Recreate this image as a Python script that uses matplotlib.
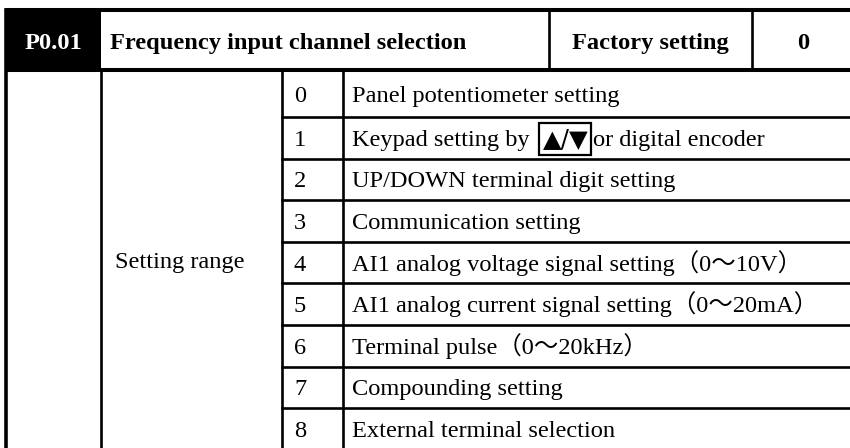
import matplotlib
matplotlib.use("Agg")
import matplotlib.pyplot as plt
from matplotlib.patches import Rectangle

plt.rcParams['font.family'] = ['Liberation Serif', 'Noto Sans CJK SC', 'DejaVu Sans']

# table content
param_code = "P0.01"
param_name = "Frequency input channel selection"
factory_label = "Factory setting"
factory_value = "0"
range_label = "Setting range"
codes = ["0", "1", "2", "3", "4", "5", "6", "7", "8"]
descs = ["Panel potentiometer setting",
         "Keypad setting by ▲/▼or digital encoder",
         "UP/DOWN terminal digit setting",
         "Communication setting",
         "AI1 analog voltage signal setting（0～10V）",
         "AI1 analog current signal setting（0～20mA）",
         "Terminal pulse（0～20kHz）",
         "Compounding setting",
         "External terminal selection"]
keypad_parts = ["Keypad setting by ", "▲/▼", "or digital encoder"]

# layout (pixels)
W, H = 850, 448
head_top, head_bot = 10.5, 70.5
head_cols = [5, 101, 549, 752, 854]
body_cols = [5, 101, 282, 343, 854]
row_h = 41.6
row_edges = [head_bot, 117] + [117 + row_h * (i + 1) for i in range(len(codes) - 1)]
fs = 17.6
thick = 2.9
thin = 1.9

fig = plt.figure(figsize=(W / 100, H / 100), dpi=100)
ax = fig.add_axes([0, 0, 1, 1])
ax.set_xlim(0, W)
ax.set_ylim(H, 0)
ax.axis('off')

# header
ax.add_patch(Rectangle((head_cols[0], head_top), head_cols[1] - head_cols[0],
                       head_bot - head_top, fc='black', ec='none'))
ax.plot([head_cols[0], W + 10], [head_top, head_top], color='black', lw=thick, solid_capstyle='butt')
ax.plot([head_cols[0], W + 10], [head_bot, head_bot], color='black', lw=thick, solid_capstyle='butt')
for x in head_cols[2:4]:
    ax.plot([x, x], [head_top, head_bot], color='black', lw=thin)
hb = 49
ax.text((head_cols[0] + head_cols[1]) / 2, hb, param_code, color='white', fontsize=fs,
        fontweight='bold', ha='center', va='baseline')
ax.text(110, hb, param_name, fontsize=fs, fontweight='bold', ha='left', va='baseline')
ax.text((head_cols[2] + head_cols[3]) / 2, hb, factory_label, fontsize=fs,
        fontweight='bold', ha='center', va='baseline')
ax.text((head_cols[3] + head_cols[4]) / 2, hb, factory_value, fontsize=fs,
        fontweight='bold', ha='center', va='baseline')

# body grid
ax.plot([6.5, 6.5], [head_top, H + 5], color='black', lw=2.6)
ax.plot([body_cols[1], body_cols[1]], [head_bot, H + 5], color='black', lw=thin)
for x in body_cols[2:4]:
    ax.plot([x, x], [head_bot, H + 5], color='black', lw=thin)
for y in row_edges[1:]:
    ax.plot([body_cols[2], W + 10], [y, y], color='black', lw=thin)

ax.text(115, 268, range_label, fontsize=fs, ha='left', va='baseline')

fig.canvas.draw()
rend = fig.canvas.get_renderer()
inv = ax.transData.inverted()

for i, (c, d) in enumerate(zip(codes, descs)):
    top = row_edges[i]
    bot = row_edges[i + 1] if i + 1 < len(row_edges) else row_edges[i] + row_h
    base = (top + bot) / 2 + 8
    ax.text(294, base, c, fontsize=fs, ha='left', va='baseline')
    if i == 1:
        t = ax.text(352, base, keypad_parts[0], fontsize=fs, ha='left', va='baseline')
        x1 = inv.transform((t.get_window_extent(rend).x1, 0))[0]
        t2 = ax.text(x1 + 7, base + 0.5, keypad_parts[1], fontsize=fs, ha='left', va='baseline',
                     family=['DejaVu Sans'])
        bb = t2.get_window_extent(rend)
        (bx0, _), (bx1, _) = inv.transform([(bb.x0, 0), (bb.x1, 0)])
        ax.add_patch(Rectangle((bx0 - 4, top + 6.5), bx1 - bx0 + 7, (bot - top) - 10,
                               fc='none', ec='black', lw=1.6))
        ax.text(bx1 + 5, base, keypad_parts[2], fontsize=fs, ha='left', va='baseline')
    else:
        ax.text(352, base, d, fontsize=fs, ha='left', va='baseline')

fig.savefig('out.png', dpi=100)
